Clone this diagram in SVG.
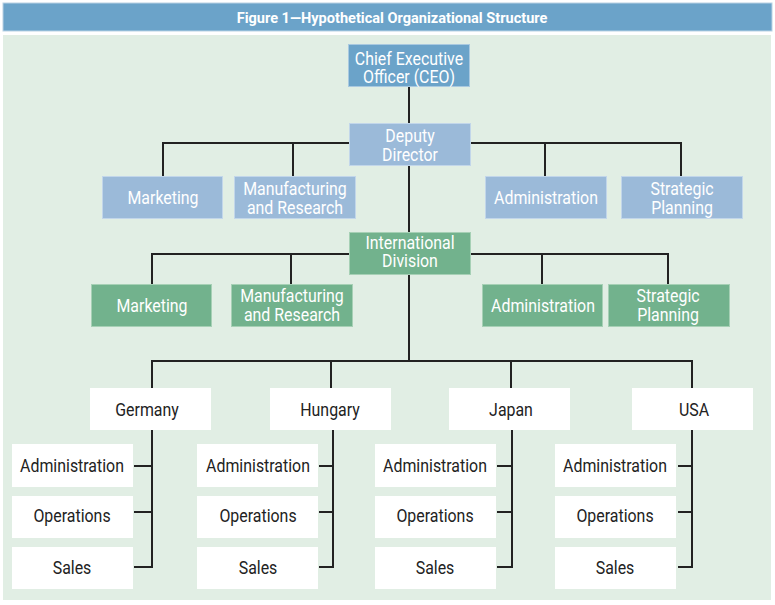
<svg xmlns="http://www.w3.org/2000/svg" width="775" height="605" viewBox="0 0 775 605">
<style>
text{font-family:Roboto,"Noto Sans","Liberation Sans",sans-serif;font-size:18.5px;text-anchor:middle}
.lbl{fill:#ffffff}
.dk{fill:#222222}
.ceo{fill:#6ba3c9;stroke:#a9c9e0;stroke-width:1}
.blue{fill:#9bbad9;stroke:#c2d6ea;stroke-width:1}
.green{fill:#72b28d;stroke:#a6d0b5;stroke-width:1}
.white{fill:#ffffff}
.ln{stroke:#222222;stroke-width:2;fill:none}
.title{font-weight:bold;font-size:15px;fill:#ffffff}
</style>
<rect x="0" y="0" width="775" height="605" fill="#ffffff"/>
<rect x="3" y="3" width="769" height="28" fill="#6ba3c9" stroke="#b9d2e4" stroke-width="1"/>
<text class="title" transform="translate(392,23) scale(0.97,1)">Figure 1—Hypothetical Organizational Structure</text>
<rect x="3" y="35" width="768" height="565" fill="#e1eee4"/>
<g id="connectors" class="ln">
<path d="M409 87V123M163 176V143H681V176M293 143V176M545 143V176M409 165V232"/>
<path d="M152 284V254H668V284M291 254V284M542 254V284M409 274V361"/>
<path d="M152 388V361H692V388M331 361V388M511 361V388"/>
<path d="M152 430V567H134M134 466H152M134 512H152"/>
<path d="M333 430V567H319M319 466H333M319 512H333"/>
<path d="M512 430V567H497M497 466H512M497 512H512"/>
<path d="M692 430V567H678M678 466H692M678 512H692"/>
</g>
<g id="ceo"><rect class="ceo" x="348.5" y="44.5" width="121" height="42"/><text class="lbl" transform="translate(409,64.5) scale(0.86,1)">Chief Executive</text><text class="lbl" transform="translate(409,83) scale(0.86,1)">Officer (CEO)</text></g>
<g id="deputy"><rect class="blue" x="349.5" y="123.5" width="121" height="42"/><text class="lbl" transform="translate(410,142) scale(0.86,1)">Deputy</text><text class="lbl" transform="translate(410,160.5) scale(0.86,1)">Director</text></g>
<g id="hq-marketing"><rect class="blue" x="102.5" y="176.5" width="120" height="42"/><text class="lbl" transform="translate(163,204) scale(0.86,1)">Marketing</text></g>
<g id="hq-manufacturing"><rect class="blue" x="234.5" y="176.5" width="121" height="42"/><text class="lbl" transform="translate(295,195) scale(0.86,1)">Manufacturing</text><text class="lbl" transform="translate(295,213.5) scale(0.86,1)">and Research</text></g>
<g id="hq-administration"><rect class="blue" x="485.5" y="176.5" width="121" height="42"/><text class="lbl" transform="translate(546,204) scale(0.86,1)">Administration</text></g>
<g id="hq-strategic"><rect class="blue" x="621.5" y="176.5" width="121" height="42"/><text class="lbl" transform="translate(682,195) scale(0.86,1)">Strategic</text><text class="lbl" transform="translate(682,213.5) scale(0.86,1)">Planning</text></g>
<g id="international"><rect class="green" x="349.5" y="232.5" width="121" height="42"/><text class="lbl" transform="translate(410,248.5) scale(0.86,1)">International</text><text class="lbl" transform="translate(410,267) scale(0.86,1)">Division</text></g>
<g id="int-marketing"><rect class="green" x="91.5" y="284.5" width="120" height="42"/><text class="lbl" transform="translate(152,311.5) scale(0.86,1)">Marketing</text></g>
<g id="int-manufacturing"><rect class="green" x="231.5" y="284.5" width="121" height="42"/><text class="lbl" transform="translate(292,302) scale(0.86,1)">Manufacturing</text><text class="lbl" transform="translate(292,320.5) scale(0.86,1)">and Research</text></g>
<g id="int-administration"><rect class="green" x="482.5" y="284.5" width="120" height="42"/><text class="lbl" transform="translate(543,311.5) scale(0.86,1)">Administration</text></g>
<g id="int-strategic"><rect class="green" x="608.5" y="284.5" width="121" height="42"/><text class="lbl" transform="translate(668,302) scale(0.86,1)">Strategic</text><text class="lbl" transform="translate(668,320.5) scale(0.86,1)">Planning</text></g>
<g id="germany"><rect class="white" x="90" y="388" width="121" height="42"/><text class="dk" transform="translate(147,416) scale(0.86,1)">Germany</text></g>
<g id="hungary"><rect class="white" x="270" y="388" width="121" height="42"/><text class="dk" transform="translate(330,416) scale(0.86,1)">Hungary</text></g>
<g id="japan"><rect class="white" x="449" y="388" width="121" height="42"/><text class="dk" transform="translate(511,416) scale(0.86,1)">Japan</text></g>
<g id="usa"><rect class="white" x="632" y="388" width="121" height="42"/><text class="dk" transform="translate(694,416) scale(0.86,1)">USA</text></g>
<g id="de-admin"><rect class="white" x="12" y="444" width="121" height="43"/><text class="dk" transform="translate(72,471.5) scale(0.86,1)">Administration</text></g>
<g id="de-ops"><rect class="white" x="12" y="496" width="121" height="42"/><text class="dk" transform="translate(72,522) scale(0.86,1)">Operations</text></g>
<g id="de-sales"><rect class="white" x="12" y="547" width="121" height="42"/><text class="dk" transform="translate(72,573.5) scale(0.86,1)">Sales</text></g>
<g id="hu-admin"><rect class="white" x="197" y="444" width="121" height="43"/><text class="dk" transform="translate(258,471.5) scale(0.86,1)">Administration</text></g>
<g id="hu-ops"><rect class="white" x="197" y="496" width="121" height="42"/><text class="dk" transform="translate(258,522) scale(0.86,1)">Operations</text></g>
<g id="hu-sales"><rect class="white" x="197" y="547" width="121" height="42"/><text class="dk" transform="translate(258,573.5) scale(0.86,1)">Sales</text></g>
<g id="jp-admin"><rect class="white" x="375" y="444" width="121" height="43"/><text class="dk" transform="translate(435,471.5) scale(0.86,1)">Administration</text></g>
<g id="jp-ops"><rect class="white" x="375" y="496" width="121" height="42"/><text class="dk" transform="translate(435,522) scale(0.86,1)">Operations</text></g>
<g id="jp-sales"><rect class="white" x="375" y="547" width="121" height="42"/><text class="dk" transform="translate(435,573.5) scale(0.86,1)">Sales</text></g>
<g id="us-admin"><rect class="white" x="555" y="444" width="121" height="43"/><text class="dk" transform="translate(615,471.5) scale(0.86,1)">Administration</text></g>
<g id="us-ops"><rect class="white" x="555" y="496" width="121" height="42"/><text class="dk" transform="translate(615,522) scale(0.86,1)">Operations</text></g>
<g id="us-sales"><rect class="white" x="555" y="547" width="121" height="42"/><text class="dk" transform="translate(615,573.5) scale(0.86,1)">Sales</text></g>
</svg>
